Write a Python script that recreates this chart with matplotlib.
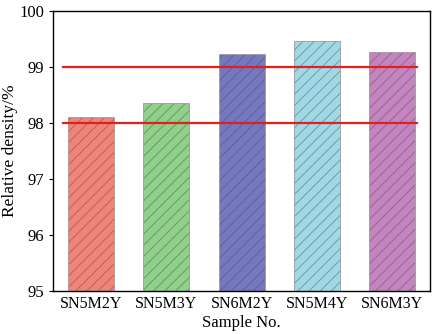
import matplotlib.pyplot as plt

# data
samples = ["SN5M2Y", "SN5M3Y", "SN6M2Y", "SN5M4Y", "SN6M3Y"]
density = [98.11, 98.36, 99.24, 99.47, 99.26]
bar_colors = ["#F08478", "#8FD08A", "#7478C0", "#A0D8E6", "#C484C0"]
ref_levels = [98, 99]

plt.rcParams["font.family"] = ["Liberation Serif", "DejaVu Serif"]
plt.rcParams["hatch.linewidth"] = 0.7

fig = plt.figure(figsize=(4.34, 3.34), dpi=100)
ax = fig.add_axes([0.122, 0.129, 0.869, 0.838])

x = range(len(samples))
bars = ax.bar(x, [d - 95 for d in density], bottom=95, width=0.61,
              color=bar_colors, edgecolor="#9a9a9a", linewidth=0.6,
              hatch="///", zorder=2)
for b in bars:
    b._hatch_color = (0.3, 0.3, 0.3, 0.45)

for lv in ref_levels:
    ax.plot([-0.37, 4.33], [lv, lv], color="#E0201E", linewidth=1.6, zorder=3)

ax.set_xlim(-0.5, 4.5)
ax.set_ylim(95, 100)
ax.set_yticks([95, 96, 97, 98, 99, 100])
ax.set_xticks(list(x))
ax.set_xticklabels(samples)
ax.tick_params(axis="x", length=0, labelsize=11.5, pad=4)
ax.tick_params(axis="y", direction="out", length=3, width=0.8, labelsize=12)
for s in ax.spines.values():
    s.set_linewidth(1.0)

ax.set_xlabel("Sample No.", fontsize=12, labelpad=2)
ax.set_ylabel("Relative density/%", fontsize=12.5, labelpad=1)

fig.savefig("out.png", dpi=100)
plt.close(fig)
